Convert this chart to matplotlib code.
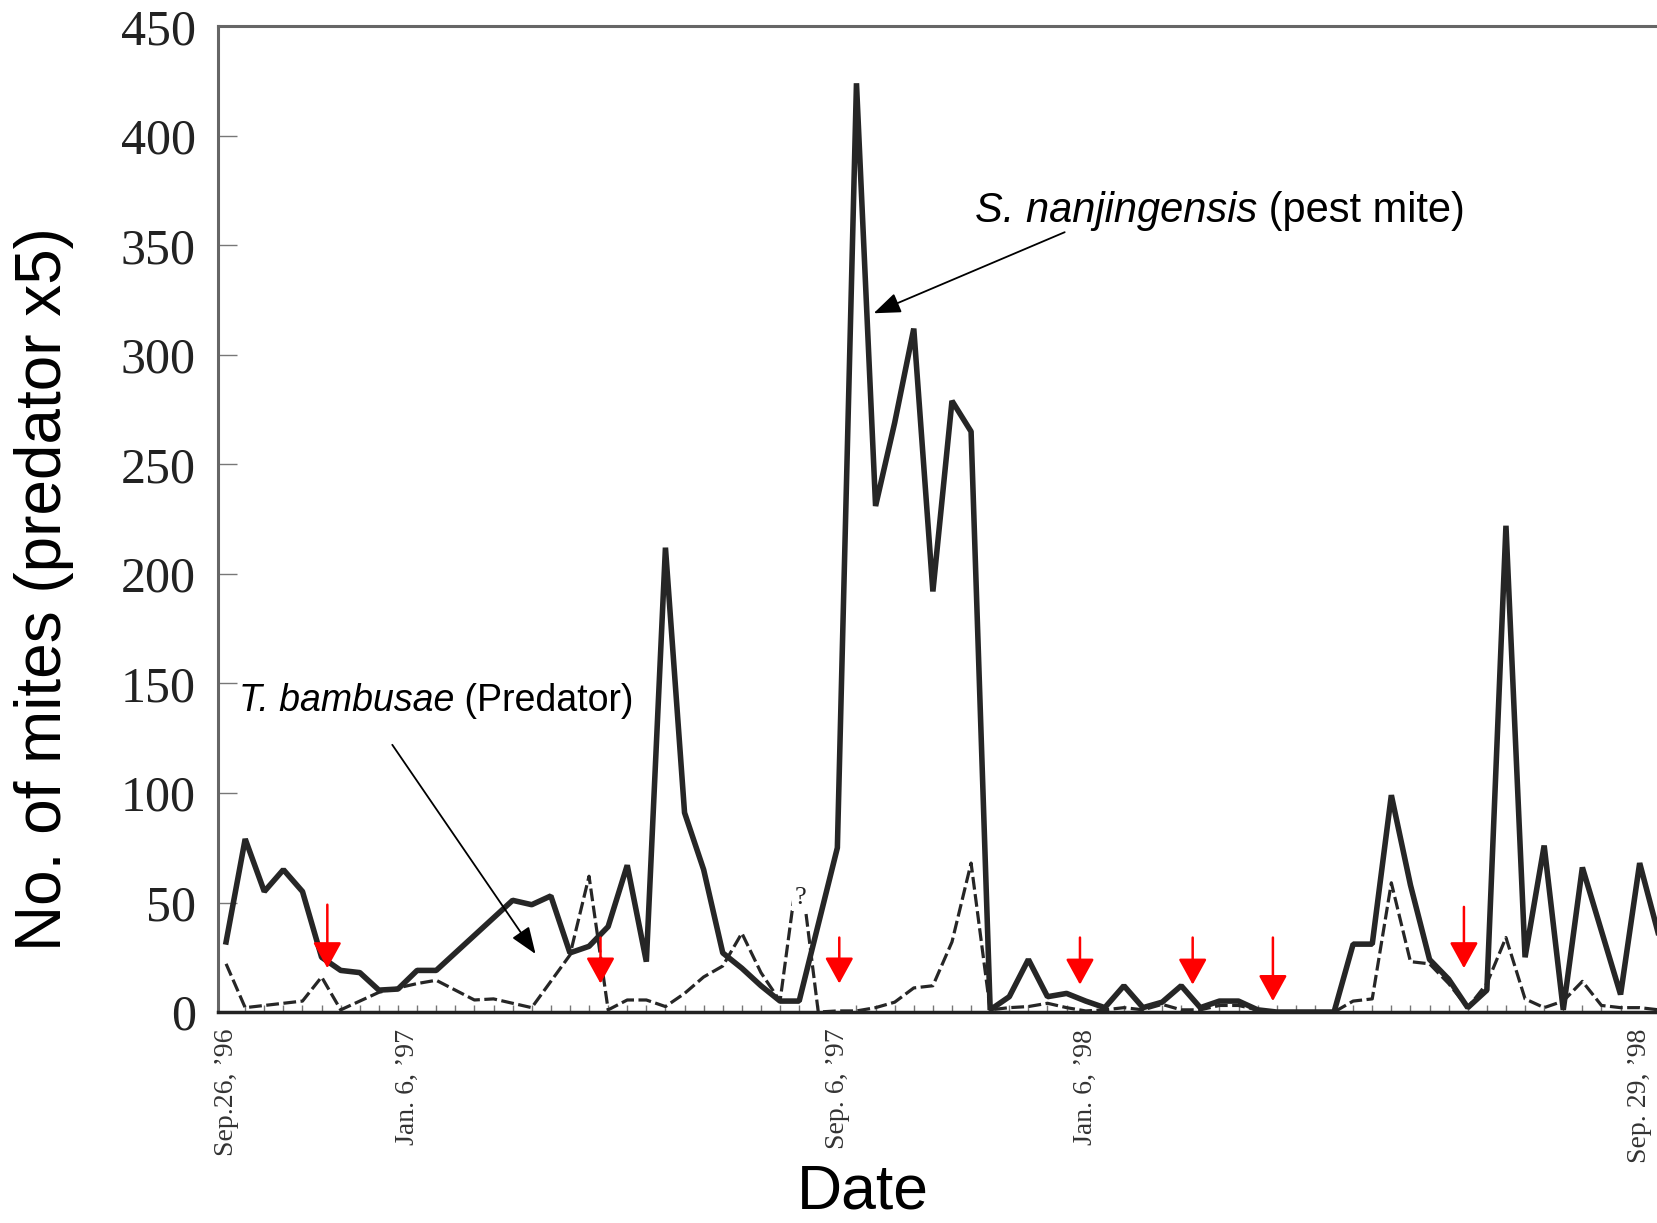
import numpy as np
import matplotlib
matplotlib.use('Agg')
import matplotlib.pyplot as plt
from matplotlib.ticker import MultipleLocator
from matplotlib.patches import Rectangle

# sample-by-sample counts (index = sampling date)
pest = [32, 79, 55, 65, 55, 25, 19, 18, 10, 10.5, 19, 19, 27, 35, 43, 51, 49, 53, 27, 30,
        39, 67, 23, 212, 91, 65, 27, 20, 12, 5, 5, 40, 75, 424, 231, 269, 312, 192, 279, 265,
        1, 7, 24, 7, 8.5, 5, 2, 12, 2, 4.5, 12, 2, 5, 5, 1, 0, 0, 0, 0, 31,
        31, 99, 58, 24, 15, 2, 10, 222, 25, 76, 1, 66, 37, 8, 68, 35]
predator = [22, 2, 3, 4, 5, 16, 1, 5, 9, 11, 13, 14.5, 10, 5.5, 6, 4, 2, 14, 26, 62,
            1, 5.5, 5.5, 2.5, 8.5, 16, 21, 36, 18, 5, 70, 0, 0.5, 0.5, 2, 4.5, 11, 12, 32, 68,
            1, 2, 2.5, 4, 2, 0.5, 1, 2, 1, 3.5, 1, 1, 3, 3, 1, 0, 0, 0, 0, 5,
            6, 59, 23, 22, 13, 2, 13, 34, 6, 2, 5, 14, 3, 2, 2, 1]
date_pos = [0, 9.5, 32, 45, 74]
date_labels = ["Sep.26, \u201996", "Jan. 6, \u201997", "Sep. 6, \u201997",
               "Jan. 6, \u201998", "Sep. 29, \u201998"]
# acaricide applications (red arrows)
spray_x = [5.3, 19.6, 32.1, 44.7, 50.6, 54.8, 64.8]
spray_top = [49, 34, 34, 34, 34, 34, 48]
spray_tip = [20, 13, 13, 12.5, 12.5, 5, 20]

fig = plt.figure(figsize=(16.57, 12.23), dpi=100)
ax = fig.add_axes([0.1316, 0.1725, 0.881, 0.806])

x = np.arange(len(pest))
ax.plot(x, pest, color='#262626', lw=4.0, solid_joinstyle='bevel', zorder=2)
ax.plot(x, predator, color='#262626', lw=2.3, dashes=(4, 1.4), zorder=2)

# missing predator value around Sep '97
ax.add_patch(Rectangle((29.63, 46), 0.9, 32, facecolor='white', edgecolor='none', zorder=3))
ax.text(30.05, 52, '?', ha='center', va='center', fontsize=19,
        family='Liberation Serif', color='#222222', zorder=4)

ax.set_xlim(-0.42, 76)
ax.set_ylim(0, 450)

for s in ['top', 'left']:
    ax.spines[s].set_color('#666666')
    ax.spines[s].set_linewidth(2.2)
ax.spines['bottom'].set_color('#222222')
ax.spines['bottom'].set_linewidth(2.5)
ax.spines['right'].set_visible(False)

ax.set_yticks(range(0, 451, 50))
ax.tick_params(axis='y', direction='in', length=14, width=1, color='#777777',
               pad=16, labelsize=36, labelcolor='#222222')
for lbl in ax.get_yticklabels():
    lbl.set_family('Liberation Serif')

ax.set_xticks(date_pos)
ax.set_xticklabels(date_labels, rotation=90, fontsize=20, family='Liberation Serif',
                   color='#333333')
ax.xaxis.set_minor_locator(MultipleLocator(1))
ax.tick_params(axis='x', which='major', length=0, pad=12)
ax.tick_params(axis='x', which='minor', direction='in', length=5, width=1, color='#777777')

ax.set_ylabel('No. of mites (predator x5)', fontsize=46, family='Liberation Sans')
ax.yaxis.set_label_coords(-0.0986, 0.429)
fig.text(0.5208, 0.001, 'Date', ha='center', va='bottom', fontsize=45,
         family='Liberation Sans')

for sx, st, sp in zip(spray_x, spray_top, spray_tip):
    ax.annotate('', xy=(sx, sp), xytext=(sx, st),
                arrowprops=dict(arrowstyle='-|>,head_length=1.0,head_width=0.55',
                                color='red', lw=1.8, shrinkA=0, shrinkB=0,
                                mutation_scale=16), zorder=5)

arrow_kw = dict(arrowstyle='-|>,head_length=1.1,head_width=0.42', color='black',
                lw=1.3, shrinkA=0, shrinkB=0, mutation_scale=15)
ax.annotate('', xy=(33.9, 319), xytext=(43.9, 356), arrowprops=arrow_kw, zorder=5)
ax.annotate('', xy=(16.2, 26.5), xytext=(8.7, 122), arrowprops=arrow_kw, zorder=5)

t1 = ax.text(39.2, 360.6, 'S. nanjingensis', style='italic', fontsize=30,
             family='Liberation Sans', va='baseline')
ax.annotate(' (pest mite)', xy=(1, 0), xycoords=t1, va='bottom', fontsize=30,
            family='Liberation Sans')
t2 = ax.text(0.68, 137.4, 'T. bambusae', style='italic', fontsize=27,
             family='Liberation Sans', va='baseline')
ax.annotate(' (Predator)', xy=(1, 0), xycoords=t2, va='bottom', fontsize=27,
            family='Liberation Sans')

fig.savefig('out.png', dpi=100)
